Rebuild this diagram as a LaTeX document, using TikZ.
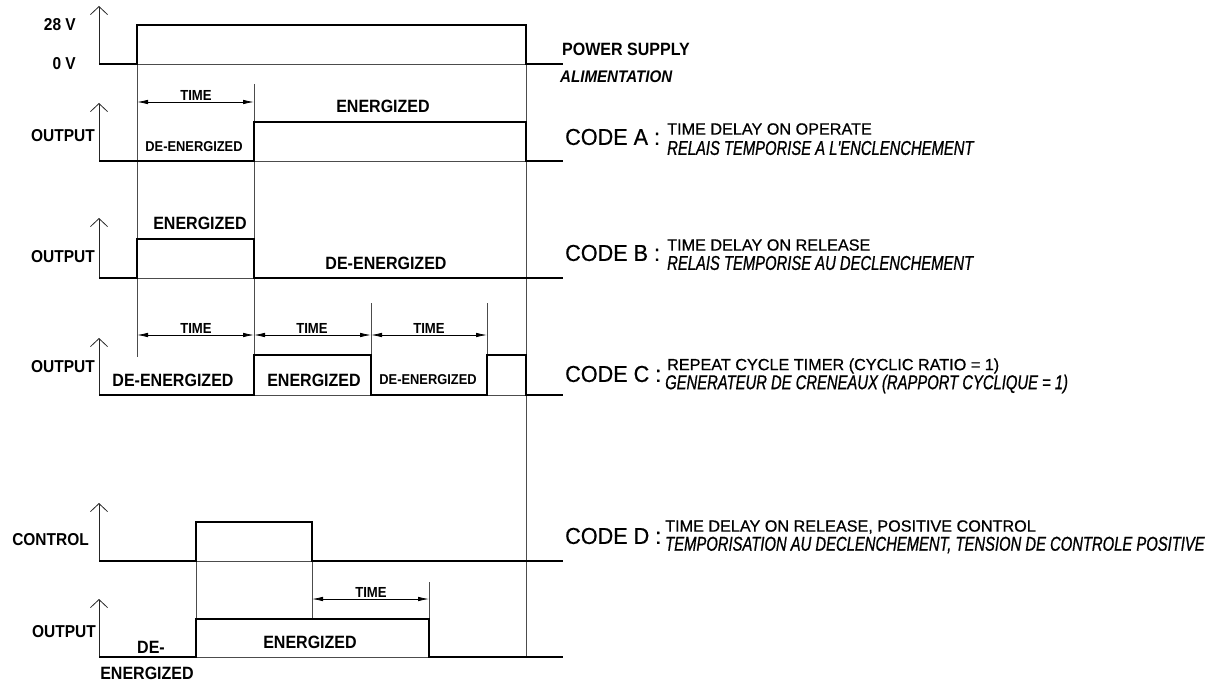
\documentclass[tikz,border=0pt]{standalone}
\usepackage{fontspec}
\setmainfont{Liberation Sans}
\newfontfamily\labfont{Liberation Sans Bold}[FakeStretch=0.9]
\newfontfamily\labitfont{Liberation Sans Bold Italic}[FakeStretch=0.9]
\newfontfamily\codefont{Liberation Sans}[FakeStretch=0.94,FakeBold=0.6]
\newfontfamily\subupfont{Liberation Sans}[FakeBold=0.6]
\newfontfamily\subitfont{Liberation Sans Italic}[FakeStretch=0.74,FakeBold=0.8]
\usetikzlibrary{arrows.meta}
\begin{document}
\begin{tikzpicture}[x=1pt,y=-1pt,
  sig/.style={line width=2.6pt, line join=miter},
  thin/.style={line width=0.9pt, black!70},
  axisarrow/.style={line width=0.8pt, black!85, -{Straight Barb[length=8pt,width=17pt,line width=0.8pt]}},
  dimline/.style={line width=0.8pt, {Latex[length=11pt,width=4.5pt]}-{Latex[length=11pt,width=4.5pt]}},
  lbl/.style={inner sep=0pt, font=\labfont\fontsize{17.2}{17}\selectfont},
  big/.style={inner sep=0pt, font=\labfont\fontsize{17.8}{18}\selectfont},
  small/.style={inner sep=0pt, font=\labfont\fontsize{14.3}{14}\selectfont},
  timelbl/.style={inner sep=0pt, font=\labfont\fontsize{14.6}{15}\selectfont},
  codelbl/.style={inner sep=0pt, anchor=west, font=\codefont\fontsize{23}{23}\selectfont},
  subup/.style={inner sep=0pt, anchor=west, font=\subupfont\fontsize{16.2}{16}\selectfont},
  subit/.style={inner sep=0pt, anchor=west, font=\subitfont\fontsize{20}{20}\selectfont}
]
\useasboundingbox (0,0) rectangle (1214,682);

% ---------- thin reference lines ----------
\draw[thin] (137,64) -- (137,357);
\draw[thin] (254,84) -- (254,395);
\draw[thin] (526,25) -- (526,657);
\draw[thin] (137,64) -- (526,64);
\draw[thin] (254,161) -- (526,161);
\draw[thin] (137,278) -- (254,278);
\draw[thin] (371,303) -- (371,395);
\draw[thin] (487,303) -- (487,355);
\draw[thin] (254,395) -- (371,395);
\draw[thin] (487,395) -- (526,395);
\draw[thin] (196,561) -- (196,657);
\draw[thin] (312,561) -- (312,619);
\draw[thin] (429,582) -- (429,619);
\draw[thin] (196,561) -- (312,561);
\draw[thin] (196,657) -- (429,657);

% ---------- axes ----------
\coordinate (pa0) at (99,64);  \coordinate (pa1) at (99,6);
\coordinate (aa0) at (99,161); \coordinate (aa1) at (99,103);
\coordinate (ba0) at (99,278); \coordinate (ba1) at (99,218);
\coordinate (ca0) at (99,395); \coordinate (ca1) at (99,338);
\coordinate (da0) at (99,561); \coordinate (da1) at (99,503);
\coordinate (ea0) at (99,657); \coordinate (ea1) at (99,599);
\draw[axisarrow] (pa0) -- (pa1);
\draw[axisarrow] (aa0) -- (aa1);
\draw[axisarrow] (ba0) -- (ba1);
\draw[axisarrow] (ca0) -- (ca1);
\draw[axisarrow] (da0) -- (da1);
\draw[axisarrow] (ea0) -- (ea1);

% ---------- signals ----------
\draw[sig] (99,64) -- (137,64) -- (137,25) -- (526,25) -- (526,64) -- (563,64);
\draw[sig] (99,161) -- (254,161) -- (254,122) -- (526,122) -- (526,161) -- (563,161);
\draw[sig] (99,278) -- (137,278) -- (137,239) -- (254,239) -- (254,278) -- (563,278);
\draw[sig] (99,395) -- (254,395) -- (254,355) -- (371,355) -- (371,395) -- (487,395)
           -- (487,355) -- (526,355) -- (526,395) -- (563,395);
\draw[sig] (99,561) -- (196,561) -- (196,522) -- (312,522) -- (312,561) -- (563,561);
\draw[sig] (99,657) -- (196,657) -- (196,619) -- (429,619) -- (429,657) -- (563,657);

% ---------- dimensions ----------
\coordinate (t1a) at (137,102); \coordinate (t1b) at (254,102);
\draw[dimline] (t1a) -- (t1b);
\coordinate (t2a) at (137,335); \coordinate (t2b) at (254,335);
\coordinate (t3a) at (254,335); \coordinate (t3b) at (371,335);
\coordinate (t4a) at (371,335); \coordinate (t4b) at (487,335);
\draw[dimline] (t2a) -- (t2b);
\draw[dimline] (t3a) -- (t3b);
\draw[dimline] (t4a) -- (t4b);
\coordinate (t5a) at (312,599); \coordinate (t5b) at (429,599);
\draw[dimline] (t5a) -- (t5b);

% ---------- left labels ----------
\node[lbl, anchor=east] (v28) at (76,25) {28 V};
\node[lbl, anchor=east] (v0) at (76,64) {0 V};
\node[lbl, anchor=east] (outA) at (95,136) {OUTPUT};
\node[lbl, anchor=east] (outB) at (95,257) {OUTPUT};
\node[lbl, anchor=east] (outC) at (95,367) {OUTPUT};
\node[lbl, anchor=east] (ctlD) at (89,540) {CONTROL};
\node[lbl, anchor=east] (outD) at (96,632) {OUTPUT};

% ---------- state labels ----------
\node[timelbl] (timeA) at (196,95) {TIME};
\node[small] (deA) at (194,147) {DE-ENERGIZED};
\node[big] (enA) at (383,106) {ENERGIZED};
\node[big] (enB) at (200,223) {ENERGIZED};
\node[big] (deB) at (386,263) {DE-ENERGIZED};
\node[timelbl] (timeC1) at (196,328) {TIME};
\node[timelbl] (timeC2) at (312,328) {TIME};
\node[timelbl] (timeC3) at (429,328) {TIME};
\node[big] (deC) at (173,380) {DE-ENERGIZED};
\node[big] (enC) at (314,380) {ENERGIZED};
\node[small] (deC2) at (428,380) {DE-ENERGIZED};
\node[timelbl] (timeD) at (371,592) {TIME};
\node[big] (enD) at (310,642) {ENERGIZED};
\node[big] (deD1) at (151,647) {DE-};
\node[big] (deD2) at (147,673) {ENERGIZED};

% ---------- right labels ----------
\node[big, anchor=west] (ps) at (562,49) {POWER SUPPLY};
\node[inner sep=0pt, anchor=west, font=\labitfont\fontsize{16.8}{17}\selectfont] (alim) at (560,77) {ALIMENTATION};

\node[codelbl] (codeA) at (565,137) {CODE A :};
\node[subup] (codeA1) at (667,129) {TIME DELAY ON OPERATE};
\node[subit] (codeA2) at (667,148) {RELAIS TEMPORISE A L'ENCLENCHEMENT};

\node[codelbl] (codeB) at (565,253) {CODE B :};
\node[subup] (codeB1) at (667,245) {TIME DELAY ON RELEASE};
\node[subit] (codeB2) at (667,263) {RELAIS TEMPORISE AU DECLENCHEMENT};

\node[codelbl] (codeC) at (565,374) {CODE C :};
\node[subup] (codeC1) at (667,366) {REPEAT CYCLE TIMER (CYCLIC RATIO = 1)};
\node[subit] (codeC2) at (665,384) {GENERATEUR DE CRENEAUX (RAPPORT CYCLIQUE = 1)};

\node[codelbl] (codeD) at (565,536) {CODE D :};
\node[subup] (codeD1) at (665,527) {TIME DELAY ON RELEASE, POSITIVE CONTROL};
\node[subit] (codeD2) at (665,545) {TEMPORISATION AU DECLENCHEMENT, TENSION DE CONTROLE POSITIVE};
\end{tikzpicture}
\end{document}
